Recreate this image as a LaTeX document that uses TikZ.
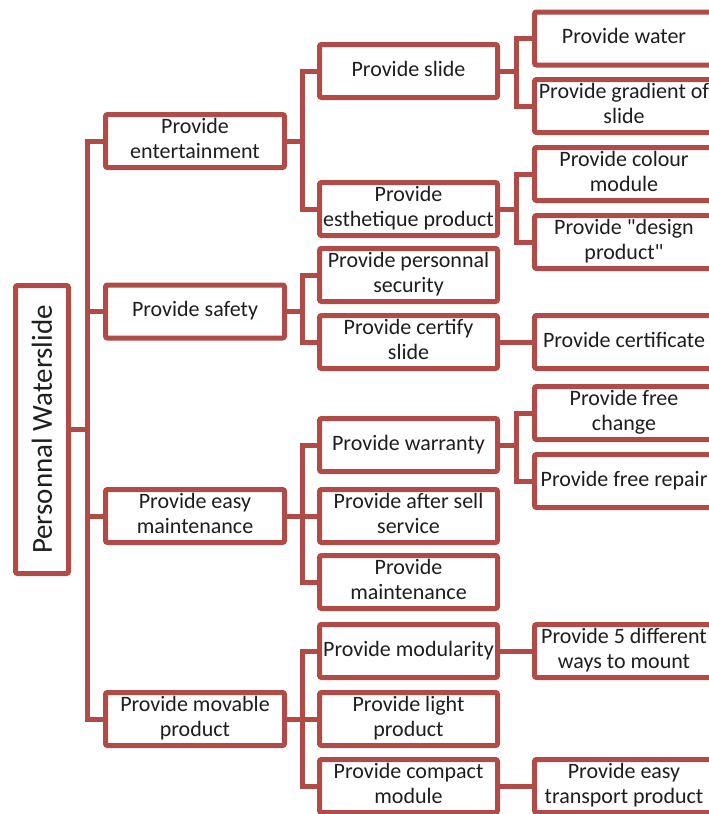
\documentclass[tikz,border=0pt]{standalone}
\usepackage{fontspec}
\setmainfont{Carlito}
\usetikzlibrary{calc}
\definecolor{brd}{RGB}{176,75,71}
\definecolor{txt}{RGB}{30,30,30}
\newcommand\tx[1]{\makebox[0pt]{\begin{tabular}{@{}c@{}}#1\end{tabular}}}
\tikzset{
  box/.style={draw=brd, line width=5pt, fill=white, rounded corners=2pt, inner sep=0pt,
    text=txt, font=\fontsize{22}{25}\selectfont, minimum height=53pt},
  lone/.style={box, minimum width=179pt},
  ltwo/.style={box, minimum width=178pt},
  lthree/.style={box, minimum width=179pt},
  conn/.style={draw=brd, line width=5pt},
}
\newcommand\link[2]{\draw[conn] (#1.east) -- ($(#1.east)!.5!(#1.east -| #2.west)$) |- (#2.west);}
\begin{document}
\begin{tikzpicture}[x=1pt,y=-1pt]
\useasboundingbox (0,0) rectangle (709,814);
\clip (0,0) rectangle (709,814);
% root
\node[box, minimum width=53pt, minimum height=288pt, font=\fontsize{29}{32}\selectfont] (root) at (42,429.5)
  {\rotatebox{90}{Personnal Waterslide}};
% level 1
\node[lone] (ent) at (195,141) {\tx{Provide\\entertainment}};
\node[lone] (saf) at (195,311.5) {\tx{Provide safety}};
\node[lone] (eas) at (195,516) {\tx{Provide easy\\maintenance}};
\node[lone] (mov) at (195,719) {\tx{Provide movable\\product}};
% level 2
\node[ltwo] (sli) at (408.5,71) {\tx{Provide slide}};
\node[ltwo] (est) at (408.5,209) {\tx{Provide\\esthetique product}};
\node[ltwo] (sec) at (408.5,275) {\tx{Provide personnal\\security}};
\node[ltwo] (cer) at (408.5,342) {\tx{Provide certify\\slide}};
\node[ltwo] (war) at (408.5,445) {\tx{Provide warranty}};
\node[ltwo] (aft) at (408.5,516) {\tx{Provide after sell\\service}};
\node[ltwo] (mai) at (408.5,582) {\tx{Provide\\maintenance}};
\node[ltwo] (mod) at (408.5,651) {\tx{Provide modularity}};
\node[ltwo] (lig) at (408.5,719) {\tx{Provide light\\product}};
\node[ltwo] (com) at (408.5,786) {\tx{Provide compact\\module}};
% level 3
\node[lthree] (wat) at (624,38.5) {\tx{Provide water}};
\node[lthree] (gra) at (624,106) {\tx{Provide gradient of\\slide}};
\node[lthree] (col) at (624,174) {\tx{Provide colour\\module}};
\node[lthree] (des) at (624,242) {\tx{Provide \textquotedbl design\\product\textquotedbl}};
\node[lthree] (crt) at (624,342) {\tx{Provide certificate}};
\node[lthree] (fch) at (624,413) {\tx{Provide free\\change}};
\node[lthree] (fre) at (624,481) {\tx{Provide free repair}};
\node[lthree] (fiv) at (624,651) {\tx{Provide 5 different\\ways to mount}};
\node[lthree] (tra) at (624,786) {\tx{Provide easy\\transport product}};
% connectors
\foreach \c in {ent,saf,eas,mov} {\link{root}{\c}}
\foreach \c in {sli,est} {\link{ent}{\c}}
\foreach \c in {sec,cer} {\link{saf}{\c}}
\foreach \c in {war,aft,mai} {\link{eas}{\c}}
\foreach \c in {mod,lig,com} {\link{mov}{\c}}
\foreach \c in {wat,gra} {\link{sli}{\c}}
\foreach \c in {col,des} {\link{est}{\c}}
\link{cer}{crt}
\foreach \c in {fch,fre} {\link{war}{\c}}
\link{mod}{fiv}
\link{com}{tra}
\end{tikzpicture}
\end{document}
